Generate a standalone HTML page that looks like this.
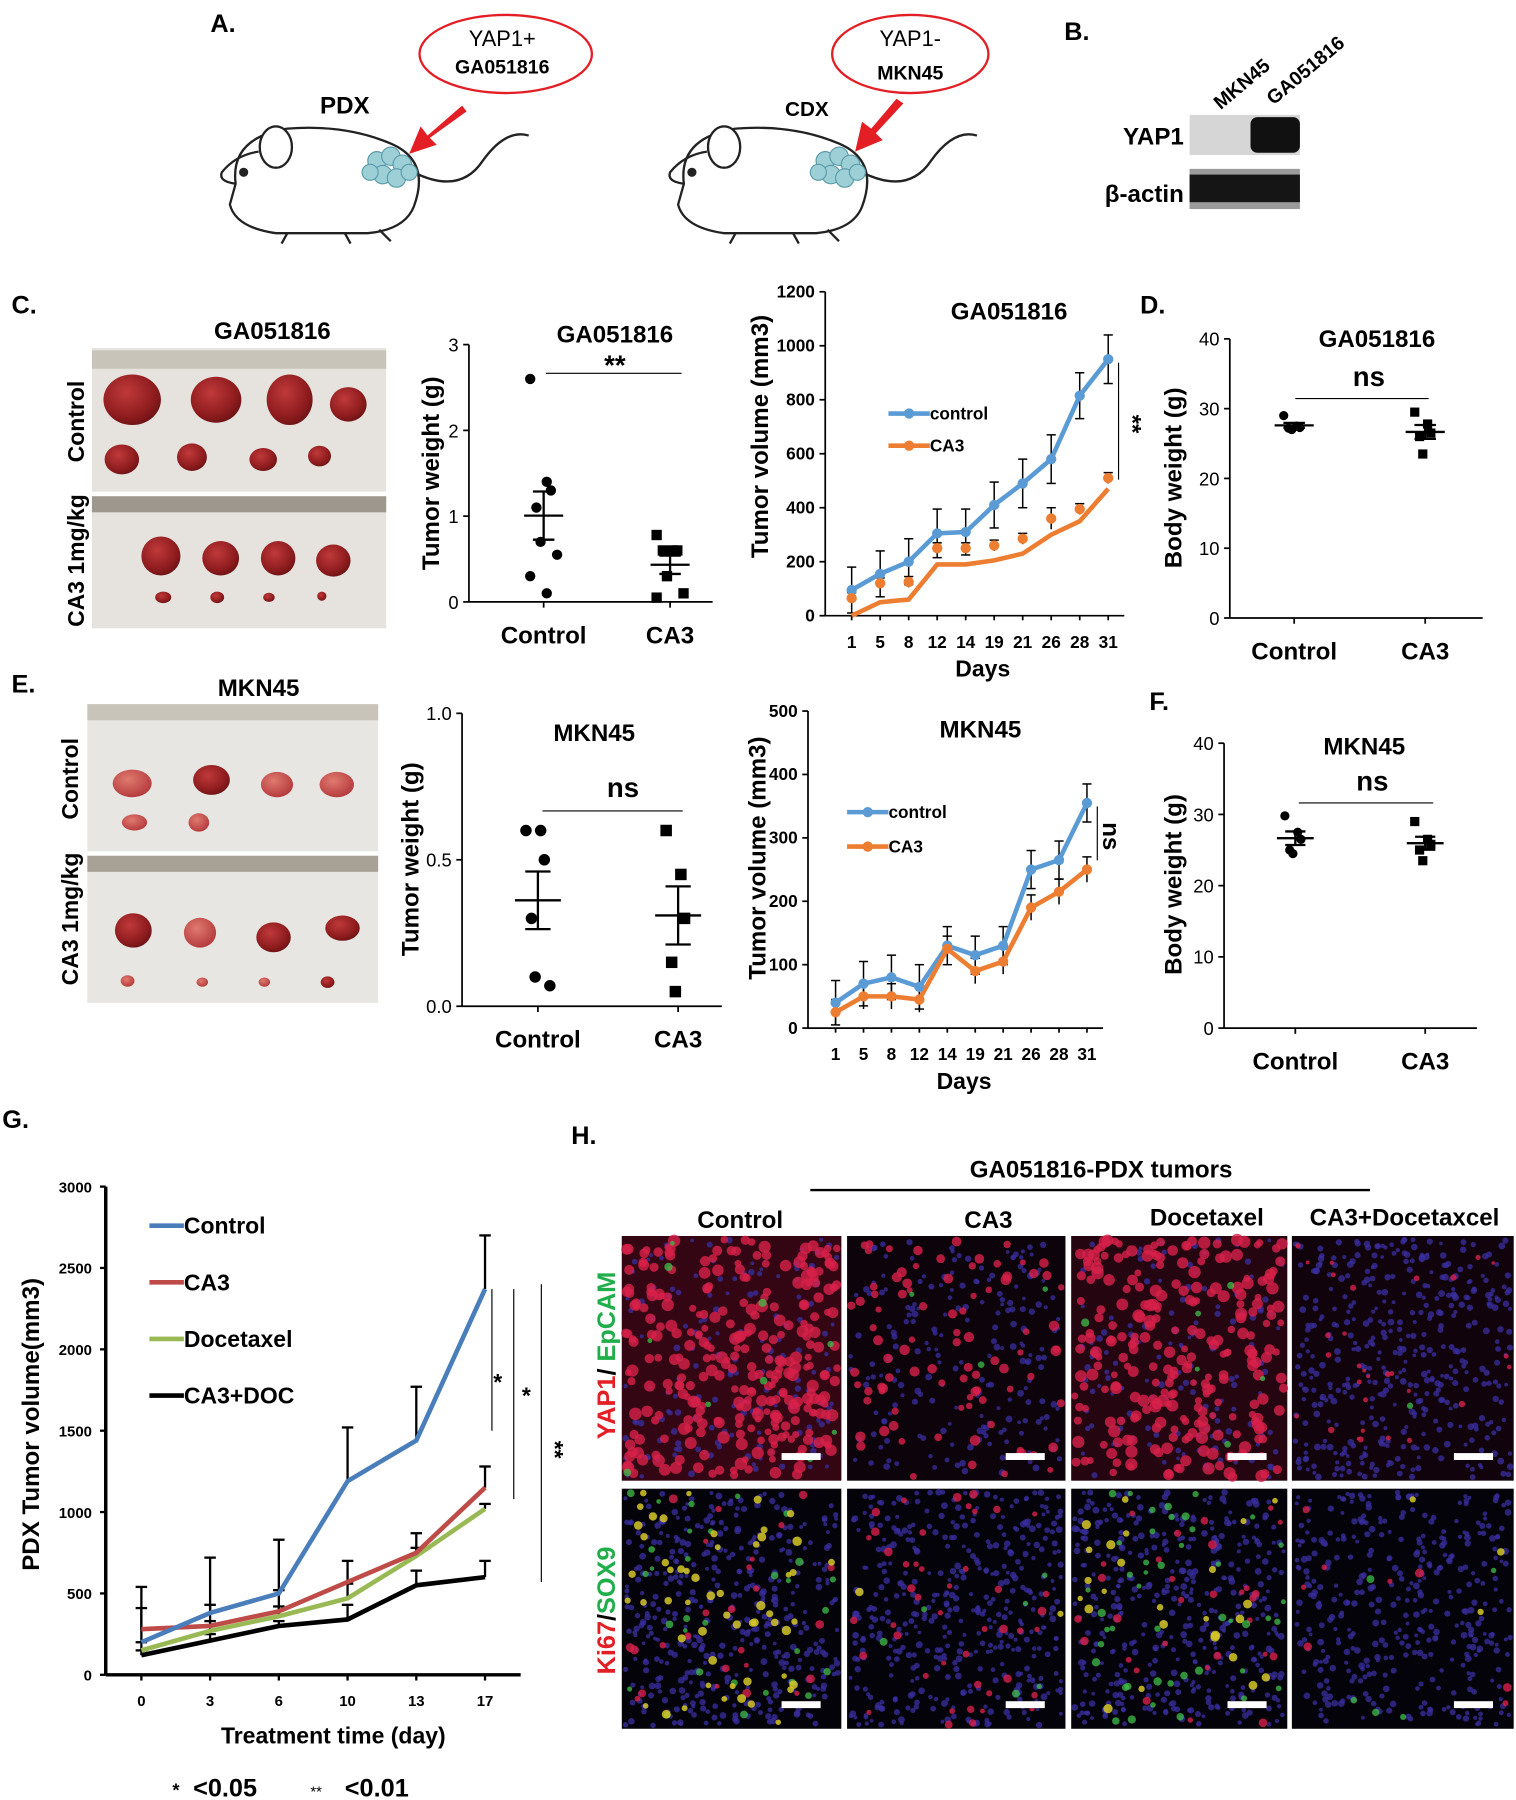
<!DOCTYPE html>
<html><head><meta charset="utf-8">
<style>
html,body{margin:0;padding:0;background:#fff;}
svg{display:block;font-family:"Liberation Sans",Arial,sans-serif;font-weight:bold;}
</style></head>
<body>
<svg id="fig" width="1516" height="1800" viewBox="0 0 1319 1567" preserveAspectRatio="none" xmlns="http://www.w3.org/2000/svg">
<defs>
<radialGradient id="tum" cx="0.4" cy="0.35" r="0.7"><stop offset="0" stop-color="#c0393a"/><stop offset="0.7" stop-color="#8e1c1e"/><stop offset="1" stop-color="#6a1214"/></radialGradient>
<radialGradient id="tum2" cx="0.4" cy="0.35" r="0.7"><stop offset="0" stop-color="#e07a70"/><stop offset="1" stop-color="#b3373a"/></radialGradient>
</defs>

<!-- Panel A -->
<g>
<text x="183" y="28" font-size="22">A.</text>
<g fill="none" stroke="#222" stroke-width="2">
 <path d="M205 160 Q200 120 250 112 Q300 108 340 125 Q375 140 360 180 Q352 200 320 203 L240 203 Q205 198 200 178 Z" fill="#fff"/>
 <path d="M205 160 Q190 158 193 150 Q205 135 225 132" />
 <ellipse cx="240" cy="128" rx="14" ry="18" fill="#fff"/>
 <circle cx="212" cy="150" r="3" fill="#222"/>
 <path d="M360 150 Q400 170 420 140 Q440 112 460 118"/>
 <path d="M250 203 L245 212 M300 203 L305 212 M330 200 L340 210"/>
</g>
<g fill="#9ccfd6" stroke="#5a9aa8" stroke-width="1">
 <circle cx="328" cy="140" r="8"/><circle cx="340" cy="136" r="8"/><circle cx="350" cy="143" r="8"/><circle cx="333" cy="152" r="8"/><circle cx="345" cy="155" r="8"/><circle cx="356" cy="150" r="7"/><circle cx="322" cy="150" r="7"/>
</g>
<text x="300" y="99" font-size="21" text-anchor="middle">PDX</text>
<ellipse cx="440" cy="47" rx="75" ry="34" fill="none" stroke="#e31e24" stroke-width="2"/>
<text x="437" y="40" font-size="19" font-weight="normal" text-anchor="middle">YAP1+</text>
<text x="437" y="64" font-size="17" text-anchor="middle">GA051816</text>
<path d="M402 92 L372 118 L366 110 L356 134 L380 126 L374 120 L406 97 Z" fill="#e31e24"/>

<g fill="none" stroke="#222" stroke-width="2">
 <path d="M595 160 Q590 120 640 112 Q690 108 730 125 Q765 140 750 180 Q742 200 710 203 L630 203 Q595 198 590 178 Z" fill="#fff"/>
 <path d="M595 160 Q580 158 583 150 Q595 135 615 132" />
 <ellipse cx="630" cy="128" rx="14" ry="18" fill="#fff"/>
 <circle cx="602" cy="150" r="3" fill="#222"/>
 <path d="M750 150 Q790 170 810 140 Q830 112 850 118"/>
 <path d="M640 203 L635 212 M690 203 L695 212 M720 200 L730 210"/>
</g>
<g fill="#9ccfd6" stroke="#5a9aa8" stroke-width="1">
 <circle cx="718" cy="140" r="8"/><circle cx="730" cy="136" r="8"/><circle cx="740" cy="143" r="8"/><circle cx="723" cy="152" r="8"/><circle cx="735" cy="155" r="8"/><circle cx="746" cy="150" r="7"/><circle cx="712" cy="150" r="7"/>
</g>
<text x="702" y="101" font-size="18" text-anchor="middle">CDX</text>
<ellipse cx="792" cy="47" rx="68" ry="34" fill="none" stroke="#e31e24" stroke-width="2"/>
<text x="792" y="40" font-size="19" font-weight="normal" text-anchor="middle">YAP1-</text>
<text x="792" y="69" font-size="17" text-anchor="middle">MKN45</text>
<path d="M780 86 L758 112 L750 106 L744 132 L768 122 L762 116 L786 90 Z" fill="#e31e24"/>
</g>

<!-- Panel B -->
<g>
<text x="926" y="35" font-size="22">B.</text>
<text x="1062" y="96" font-size="17" transform="rotate(-40 1062 96)">MKN45</text>
<text x="1108" y="92" font-size="17" transform="rotate(-40 1108 92)">GA051816</text>
<text x="1030" y="126" font-size="21" text-anchor="end">YAP1</text>
<rect x="1035" y="100" width="96" height="35" fill="#d6d6d6"/>
<rect x="1088" y="102" width="43" height="31" rx="6" fill="#111"/>
<text x="1030" y="176" font-size="21" text-anchor="end">β-actin</text>
<rect x="1035" y="147" width="96" height="35" fill="#9a9a9a"/>
<rect x="1035" y="152" width="96" height="24" fill="#151515"/>
</g>

<!-- Panel C / E photos -->
<g>
<text x="10" y="273" font-size="22">C.</text>
<text x="237" y="295" font-size="21" text-anchor="middle">GA051816</text>
<text x="73" y="367" font-size="20" text-anchor="middle" transform="rotate(-90 73 367)">Control</text>
<text x="73" y="488" font-size="20" text-anchor="middle" transform="rotate(-90 73 488)">CA3 1mg/kg</text>
<rect x="80" y="303" width="256" height="244" fill="#e6e3df"/>
<rect x="80" y="305" width="256" height="16" fill="#c9c4ba"/>
<rect x="80" y="428" width="256" height="4" fill="#fff"/>
<rect x="80" y="432" width="256" height="14" fill="#9d978d"/>
<ellipse cx="115" cy="348" rx="25" ry="22" fill="url(#tum)"/><ellipse cx="188" cy="348" rx="22" ry="20" fill="url(#tum)"/><ellipse cx="252" cy="348" rx="20" ry="22" fill="url(#tum)"/><ellipse cx="303" cy="352" rx="16" ry="15" fill="url(#tum)"/>
<ellipse cx="106" cy="400" rx="15" ry="13" fill="url(#tum)"/><ellipse cx="167" cy="398" rx="13" ry="12" fill="url(#tum)"/><ellipse cx="229" cy="400" rx="12" ry="10" fill="url(#tum)"/><ellipse cx="278" cy="397" rx="10" ry="9" fill="url(#tum)"/>
<ellipse cx="140" cy="484" rx="17" ry="17" fill="url(#tum)"/><ellipse cx="192" cy="486" rx="16" ry="15" fill="url(#tum)"/><ellipse cx="242" cy="486" rx="15" ry="15" fill="url(#tum)"/><ellipse cx="290" cy="488" rx="15" ry="14" fill="url(#tum)"/>
<ellipse cx="142" cy="520" rx="7" ry="5" fill="url(#tum)"/><ellipse cx="189" cy="520" rx="6" ry="5" fill="url(#tum)"/><ellipse cx="234" cy="520" rx="5" ry="4" fill="url(#tum)"/><ellipse cx="280" cy="519" rx="4" ry="4" fill="url(#tum)"/>
</g>
<g>
<text x="10" y="603" font-size="22">E.</text>
<text x="225" y="606" font-size="21" text-anchor="middle">MKN45</text>
<text x="68" y="678" font-size="20" text-anchor="middle" transform="rotate(-90 68 678)">Control</text>
<text x="68" y="800" font-size="20" text-anchor="middle" transform="rotate(-90 68 800)">CA3 1mg/kg</text>
<rect x="76" y="613" width="253" height="260" fill="#e8e6e2"/>
<rect x="76" y="613" width="253" height="14" fill="#c9c4ba"/>
<rect x="76" y="741" width="253" height="4" fill="#fff"/>
<rect x="76" y="745" width="253" height="14" fill="#a8a296"/>
<ellipse cx="115" cy="682" rx="17" ry="12" fill="url(#tum2)"/><ellipse cx="184" cy="679" rx="16" ry="13" fill="url(#tum)"/><ellipse cx="241" cy="683" rx="14" ry="11" fill="url(#tum2)"/><ellipse cx="293" cy="683" rx="15" ry="11" fill="url(#tum2)"/>
<ellipse cx="117" cy="716" rx="11" ry="7" fill="url(#tum2)"/><ellipse cx="173" cy="716" rx="9" ry="8" fill="url(#tum2)"/>
<ellipse cx="116" cy="810" rx="16" ry="15" fill="url(#tum)"/><ellipse cx="174" cy="812" rx="14" ry="13" fill="url(#tum2)"/><ellipse cx="238" cy="816" rx="15" ry="13" fill="url(#tum)"/><ellipse cx="298" cy="808" rx="15" ry="11" fill="url(#tum)"/>
<ellipse cx="111" cy="854" rx="6" ry="5" fill="url(#tum2)"/><ellipse cx="176" cy="855" rx="5" ry="4" fill="url(#tum2)"/><ellipse cx="230" cy="855" rx="5" ry="4" fill="url(#tum2)"/><ellipse cx="285" cy="855" rx="6" ry="5" fill="url(#tum)"/>
</g>

<g id="charts"></g>

<!-- Panel H -->
<g>
<text x="497" y="996" font-size="22">H.</text>
<text x="958" y="1025" font-size="21" text-anchor="middle">GA051816-PDX tumors</text>
<line x1="705" y1="1036" x2="1192" y2="1036" stroke="#000" stroke-width="2"/>
<text x="644" y="1069" font-size="21" text-anchor="middle">Control</text>
<text x="860" y="1069" font-size="21" text-anchor="middle">CA3</text>
<text x="1050" y="1067" font-size="21" text-anchor="middle">Docetaxel</text>
<text x="1222" y="1067" font-size="21" text-anchor="middle">CA3+Docetaxcel</text>
<text x="535" y="1180" font-size="22" text-anchor="middle" transform="rotate(-90 535 1180)"><tspan fill="#e31e24">YAP1</tspan><tspan fill="#000">/ </tspan><tspan fill="#1fae4a">EpCAM</tspan></text>
<text x="535" y="1402" font-size="22" text-anchor="middle" transform="rotate(-90 535 1402)"><tspan fill="#e31e24">Ki67</tspan><tspan fill="#000">/</tspan><tspan fill="#1fae4a">SOX9</tspan></text>
<g id="micro"></g>
</g>

<script>
// ===== Data arrays =====
// C: tumor weight GA051816
const cWeightControl = [2.6, 1.4, 1.3, 1.1, 0.7, 0.55, 0.3, 0.1];
const cWeightCA3 = [0.78, 0.6, 0.6, 0.6, 0.3, 0.1, 0.05];
const cWeightTicks = [0, 1, 2, 3];
// C: tumor volume GA051816
const cDays = ["1","5","8","12","14","19","21","26","28","31"];
const cVolControl = [95, 155, 200, 305, 310, 410, 490, 580, 815, 950];
const cVolControlErr = [85, 85, 85, 90, 85, 85, 90, 90, 85, 90];
const cVolCA3Dots = [65, 120, 125, 250, 250, 260, 285, 360, 395, 510];
const cVolCA3Line = [0, 50, 60, 190, 190, 205, 230, 300, 350, 470];
const cVolCA3Err = [20, 20, 20, 20, 20, 20, 20, 40, 20, 20];
const cVolTicks = [0, 200, 400, 600, 800, 1000, 1200];
// D: body weight GA051816
const dBodyControl = [29, 27.5, 27.3, 27.2, 27.0];
const dBodyCA3 = [29.5, 27.8, 26.5, 26.0, 23.5];
const bodyTicks = [0, 10, 20, 30, 40];
// E: tumor weight MKN45
const eWeightControl = [0.6, 0.6, 0.5, 0.3, 0.1, 0.07];
const eWeightCA3 = [0.6, 0.45, 0.3, 0.15, 0.05];
const eWeightTicks = [0.0, 0.5, 1.0];
// E: tumor volume MKN45
const eDays = ["1","5","8","12","14","19","21","26","28","31"];
const eVolControl = [40, 70, 80, 65, 130, 115, 130, 250, 265, 355];
const eVolControlErr = [35, 35, 35, 35, 30, 30, 30, 30, 30, 30];
const eVolCA3 = [25, 50, 50, 45, 125, 90, 105, 190, 215, 250];
const eVolCA3Err = [20, 20, 20, 20, 20, 20, 20, 20, 20, 20];
const eVolTicks = [0, 100, 200, 300, 400, 500];
// F: body weight MKN45
const fBodyControl = [29.8, 27.5, 26.5, 25.0, 24.5];
const fBodyCA3 = [29.0, 26.5, 25.8, 25.0, 23.5];
// G: PDX tumor volume
const gDays = ["0","3","6","10","13","17"];
const gControl = [200, 380, 500, 1190, 1440, 2370];
const gControlUp = [540, 720, 830, 1520, 1770, 2700];
const gCA3 = [280, 300, 390, 570, 750, 1150];
const gCA3Up = [410, 430, 520, 700, 870, 1280];
const gDoc = [150, 270, 360, 470, 730, 1020];
const gDocUp = [200, 330, 420, 560, 780, 1050];
const gCombo = [120, 210, 300, 340, 550, 600];
const gComboUp = [150, 250, 330, 430, 640, 700];
const gTicks = [0, 500, 1000, 1500, 2000, 2500, 3000];

const NS = "http://www.w3.org/2000/svg";
const root = document.getElementById("charts");
function mk(parent, tag, attrs, name, inter) {
  const el = document.createElementNS(NS, tag);
  for (const k in attrs) el.setAttribute(k, attrs[k]);
  
  
  parent.appendChild(el);
  return el;
}
function txt(parent, x, y, s, size, name, extra) {
  const a = Object.assign({x: x, y: y, 'font-size': size, 'text-anchor': 'middle'}, extra || {});
  const t = mk(parent, 'text', a, name, false);
  t.textContent = s;
  return t;
}
function linear(d0, d1, r0, r1) { return v => r0 + (v - d0) * (r1 - r0) / (d1 - d0); }
function mean(a) { return a.reduce((s, v) => s + v, 0) / a.length; }
function sem(a) { const m = mean(a); const sd = Math.sqrt(a.reduce((s, v) => s + (v - m) * (v - m), 0) / (a.length - 1)); return sd / Math.sqrt(a.length); }

// ----- dot plot -----
function dotPlot(o) {
  const g = mk(root, 'g', {}, o.name, false);
  const y = linear(o.min, o.max, o.y0, o.y1);
  mk(g, 'line', {x1: o.x0, y1: o.y0, x2: o.x0, y2: o.y1, stroke: '#000', 'stroke-width': 1.5}, 'y-axis', false);
  mk(g, 'line', {x1: o.x0, y1: o.y0, x2: o.xEnd, y2: o.y0, stroke: '#000', 'stroke-width': 1.5}, 'x-axis', false);
  o.ticks.forEach(t => {
    mk(g, 'line', {x1: o.x0 - 5, y1: y(t), x2: o.x0, y2: y(t), stroke: '#000', 'stroke-width': 1.5}, 'y-tick', false);
    txt(g, o.x0 - 9, y(t) + 6, o.fmt ? o.fmt(t) : String(t), 16, 'y-tick-label', {'text-anchor': 'end', 'font-weight': 'normal'});
  });
  [o.xa, o.xb].forEach(xx => mk(g, 'line', {x1: xx, y1: o.y0, x2: xx, y2: o.y0 + 5, stroke: '#000', 'stroke-width': 1.5}, 'x-tick', false));
  txt(g, o.xa, o.y0 + 36, 'Control', 21, 'x-label-control');
  txt(g, o.xb, o.y0 + 36, 'CA3', 21, 'x-label-ca3');
  txt(g, o.ylx, o.yly, o.ylabel, 21, 'y-axis-title', {transform: `rotate(-90 ${o.ylx} ${o.yly})`});
  txt(g, o.tx, o.ty, o.title, 21, 'chart-title');
  txt(g, o.sx, o.sy, o.sig, 24, 'significance-label');
  mk(g, 'line', {x1: o.l1, y1: o.ly, x2: o.l2, y2: o.ly, stroke: '#000', 'stroke-width': 1}, 'significance-line', false);
  [[o.a, o.xa, 'circle', 'control'], [o.b, o.xb, 'rect', 'ca3']].forEach(([arr, cx, shp, nm]) => {
    arr.forEach((v, i) => {
      const off = o.spread * (((i % 3) - 1) + (i % 2 ? 0.3 : -0.3));
      const px = cx + off, py = y(v);
      if (shp === 'circle') mk(g, 'circle', {cx: px, cy: py, r: o.r, fill: '#000'}, 'point-' + nm, false);
      else mk(g, 'rect', {x: px - o.r, y: py - o.r, width: 2 * o.r, height: 2 * o.r, fill: '#000'}, 'point-' + nm, false);
    });
    const m = mean(arr), s = sem(arr);
    mk(g, 'line', {x1: cx - o.mw, y1: y(m), x2: cx + o.mw, y2: y(m), stroke: '#000', 'stroke-width': 2}, 'mean-' + nm, false);
    mk(g, 'line', {x1: cx, y1: y(m - s), x2: cx, y2: y(m + s), stroke: '#000', 'stroke-width': 2}, 'sem-' + nm, false);
    mk(g, 'line', {x1: cx - o.mw * 0.55, y1: y(m - s), x2: cx + o.mw * 0.55, y2: y(m - s), stroke: '#000', 'stroke-width': 2}, 'sem-cap-' + nm, false);
    mk(g, 'line', {x1: cx - o.mw * 0.55, y1: y(m + s), x2: cx + o.mw * 0.55, y2: y(m + s), stroke: '#000', 'stroke-width': 2}, 'sem-cap-' + nm, false);
  });
}
dotPlot({name: 'chart-c-tumor-weight', x0: 408, xEnd: 620, y0: 524, y1: 300, min: 0, max: 3, ticks: cWeightTicks,
  xa: 473, xb: 583, a: cWeightControl, b: cWeightCA3, r: 4.5, spread: 9, mw: 17, ylabel: 'Tumor  weight (g)', ylx: 382, yly: 412,
  title: 'GA051816', tx: 535, ty: 298, sig: '**', sx: 535, sy: 326, l1: 475, l2: 593, ly: 325});
dotPlot({name: 'chart-e-tumor-weight', x0: 402, xEnd: 628, y0: 876, y1: 621, min: 0, max: 1, ticks: eWeightTicks, fmt: t => t.toFixed(1),
  xa: 468, xb: 590, a: eWeightControl, b: eWeightCA3, r: 5, spread: 8, mw: 20, ylabel: 'Tumor  weight (g)', ylx: 364, yly: 748,
  title: 'MKN45', tx: 517, ty: 645, sig: 'ns', sx: 542, sy: 694, l1: 472, l2: 594, ly: 706});
dotPlot({name: 'chart-d-body-weight', x0: 1070, xEnd: 1290, y0: 538, y1: 295, min: 0, max: 40, ticks: bodyTicks,
  xa: 1126, xb: 1240, a: dBodyControl, b: dBodyCA3, r: 4, spread: 7, mw: 17, ylabel: 'Body weight (g)', ylx: 1028, yly: 416,
  title: 'GA051816', tx: 1198, ty: 302, sig: 'ns', sx: 1191, sy: 336, l1: 1127, l2: 1243, ly: 347});
dotPlot({name: 'chart-f-body-weight', x0: 1065, xEnd: 1285, y0: 895, y1: 647, min: 0, max: 40, ticks: bodyTicks,
  xa: 1127, xb: 1240, a: fBodyControl, b: fBodyCA3, r: 4, spread: 7, mw: 16, ylabel: 'Body weight (g)', ylx: 1028, yly: 770,
  title: 'MKN45', tx: 1187, ty: 657, sig: 'ns', sx: 1194, sy: 688, l1: 1130, l2: 1247, ly: 699});
txt(root, 992, 273, 'D.', 22, 'panel-d-label', {'text-anchor': 'start'});
txt(root, 1000, 618, 'F.', 22, 'panel-f-label', {'text-anchor': 'start'});

// ----- line charts C/E -----
function volChart(o) {
  const g = mk(root, 'g', {}, o.name, false);
  const y = linear(0, o.max, o.y0, o.y1);
  const x = i => o.xs + i * o.dx;
  mk(g, 'line', {x1: o.x0, y1: o.y0, x2: o.x0, y2: o.y1, stroke: '#000', 'stroke-width': 1.5}, 'y-axis', false);
  mk(g, 'line', {x1: o.x0, y1: o.y0, x2: x(o.days.length - 1) + 14, y2: o.y0, stroke: '#000', 'stroke-width': 1.5}, 'x-axis', false);
  o.ticks.forEach(t => {
    mk(g, 'line', {x1: o.x0 - 5, y1: y(t), x2: o.x0, y2: y(t), stroke: '#000', 'stroke-width': 1.5}, 'y-tick', false);
    txt(g, o.x0 - 9, y(t) + 5, String(t), 15, 'y-tick-label', {'text-anchor': 'end'});
  });
  o.days.forEach((d, i) => {
    mk(g, 'line', {x1: x(i), y1: o.y0, x2: x(i), y2: o.y0 + 4, stroke: '#000', 'stroke-width': 1.5}, 'x-tick', false);
    txt(g, x(i), o.y0 + 28, d, 15, 'x-tick-label');
  });
  txt(g, o.xs + o.dx * 4.6, o.y0 + 53, 'Days', 20, 'x-axis-title');
  txt(g, o.ylx, o.yly, 'Tumor volume (mm3)', 21, 'y-axis-title', {transform: `rotate(-90 ${o.ylx} ${o.yly})`});
  txt(g, o.tx, o.ty, o.title, 21, 'chart-title');
  const blue = '#5b9bd5', orange = '#ed7d31';
  o.ctl.forEach((v, i) => {
    mk(g, 'line', {x1: x(i), y1: y(v - o.ctlErr[i]), x2: x(i), y2: y(v + o.ctlErr[i]), stroke: '#000', 'stroke-width': 1.3}, 'error-bar-control', false);
    mk(g, 'line', {x1: x(i) - 4, y1: y(v + o.ctlErr[i]), x2: x(i) + 4, y2: y(v + o.ctlErr[i]), stroke: '#000', 'stroke-width': 1.3}, 'error-cap-control', false);
    mk(g, 'line', {x1: x(i) - 4, y1: y(v - o.ctlErr[i]), x2: x(i) + 4, y2: y(v - o.ctlErr[i]), stroke: '#000', 'stroke-width': 1.3}, 'error-cap-control', false);
  });
  o.caDots.forEach((v, i) => {
    mk(g, 'line', {x1: x(i), y1: y(v - o.caErr[i]), x2: x(i), y2: y(v + o.caErr[i]), stroke: '#000', 'stroke-width': 1.3}, 'error-bar-ca3', false);
    mk(g, 'line', {x1: x(i) - 4, y1: y(v + o.caErr[i]), x2: x(i) + 4, y2: y(v + o.caErr[i]), stroke: '#000', 'stroke-width': 1.3}, 'error-cap-ca3', false);
  });
  mk(g, 'polyline', {points: o.ctl.map((v, i) => x(i) + ',' + y(v)).join(' '), fill: 'none', stroke: blue, 'stroke-width': 4}, 'line-control', false);
  mk(g, 'polyline', {points: o.caLine.map((v, i) => x(i) + ',' + y(v)).join(' '), fill: 'none', stroke: orange, 'stroke-width': 4}, 'line-ca3', false);
  o.ctl.forEach((v, i) => mk(g, 'circle', {cx: x(i), cy: y(v), r: 4.5, fill: blue}, 'point-control', false));
  o.caDots.forEach((v, i) => mk(g, 'circle', {cx: x(i), cy: y(v), r: 4.5, fill: orange}, 'point-ca3', false));
  mk(g, 'line', {x1: o.lx, y1: o.ly, x2: o.lx + 36, y2: o.ly, stroke: blue, 'stroke-width': 4}, 'legend-control-swatch', false);
  mk(g, 'circle', {cx: o.lx + 18, cy: o.ly, r: 4.5, fill: blue}, 'legend-control-marker', false);
  txt(g, o.lx + 36, o.ly + 5, 'control', 15, 'legend-control', {'text-anchor': 'start'});
  mk(g, 'line', {x1: o.lx, y1: o.ly + o.lgap, x2: o.lx + 36, y2: o.ly + o.lgap, stroke: orange, 'stroke-width': 4}, 'legend-ca3-swatch', false);
  mk(g, 'circle', {cx: o.lx + 18, cy: o.ly + o.lgap, r: 4.5, fill: orange}, 'legend-ca3-marker', false);
  txt(g, o.lx + 36, o.ly + o.lgap + 5, 'CA3', 15, 'legend-ca3', {'text-anchor': 'start'});
  const last = o.ctl.length - 1;
  const sx = x(last) + 9;
  const my = (y(o.ctl[last]) + y(o.caLine[last])) / 2;
  mk(g, 'line', {x1: sx, y1: y(o.ctl[last]) + 3, x2: sx, y2: y(o.caLine[last]) - 8, stroke: '#000', 'stroke-width': 1}, 'significance-line', false);
  txt(g, sx + 5, my, o.sig, 21, 'significance-label', {transform: `rotate(90 ${sx + 5} ${my})`});
}
volChart({name: 'chart-c-tumor-volume', x0: 718, y0: 536, y1: 254, max: 1200, ticks: cVolTicks, xs: 741, dx: 24.8, days: cDays,
  ctl: cVolControl, ctlErr: cVolControlErr, caDots: cVolCA3Dots, caLine: cVolCA3Line, caErr: cVolCA3Err,
  ylx: 668, yly: 380, title: 'GA051816', tx: 878, ty: 278, lx: 773, ly: 360, lgap: 28, sig: '**'});
volChart({name: 'chart-e-tumor-volume', x0: 703, y0: 895, y1: 619, max: 500, ticks: eVolTicks, xs: 727, dx: 24.3, days: eDays,
  ctl: eVolControl, ctlErr: eVolControlErr, caDots: eVolCA3, caLine: eVolCA3, caErr: eVolCA3Err,
  ylx: 666, yly: 747, title: 'MKN45', tx: 853, ty: 642, lx: 737, ly: 707, lgap: 30, sig: 'ns'});

// ----- Panel G -----
(function () {
  const g = mk(root, 'g', {}, 'chart-g-pdx-volume', false);
  txt(g, 2, 982, 'G.', 22, 'panel-g-label', {'text-anchor': 'start'});
  const x0 = 92, y0 = 1458, y1 = 1033;
  const y = linear(0, 3000, y0, y1);
  const x = i => 123 + i * 59.8;
  mk(g, 'line', {x1: x0, y1: y0, x2: x0, y2: y1, stroke: '#000', 'stroke-width': 3}, 'y-axis', false);
  mk(g, 'line', {x1: x0, y1: y0, x2: 453, y2: y0, stroke: '#000', 'stroke-width': 3}, 'x-axis', false);
  gTicks.forEach(t => {
    mk(g, 'line', {x1: x0 - 5, y1: y(t), x2: x0, y2: y(t), stroke: '#000', 'stroke-width': 2}, 'y-tick', false);
    txt(g, x0 - 12, y(t) + 5, String(t), 13, 'y-tick-label', {'text-anchor': 'end'});
  });
  gDays.forEach((d, i) => {
    mk(g, 'line', {x1: x(i), y1: y0, x2: x(i), y2: y0 + 5, stroke: '#000', 'stroke-width': 2}, 'x-tick', false);
    txt(g, x(i), y0 + 27, d, 13, 'x-tick-label');
  });
  txt(g, 290, 1518, 'Treatment time (day)', 20, 'x-axis-title');
  txt(g, 34, 1240, 'PDX Tumor volume(mm3)', 21, 'y-axis-title', {transform: 'rotate(-90 34 1240)'});
  const series = [[gControl, gControlUp, '#4a7ebb', 'control'], [gCA3, gCA3Up, '#be4b48', 'ca3'], [gDoc, gDocUp, '#98b954', 'docetaxel'], [gCombo, gComboUp, '#000', 'ca3-doc']];
  series.forEach(([v, up, c, nm]) => {
    v.forEach((val, i) => {
      mk(g, 'line', {x1: x(i), y1: y(val), x2: x(i), y2: y(up[i]), stroke: '#000', 'stroke-width': 2}, 'error-bar-' + nm, false);
      mk(g, 'line', {x1: x(i) - 5, y1: y(up[i]), x2: x(i) + 5, y2: y(up[i]), stroke: '#000', 'stroke-width': 2}, 'error-cap-' + nm, false);
    });
  });
  series.slice().reverse().forEach(([v, up, c, nm]) => {
    mk(g, 'polyline', {points: v.map((val, i) => x(i) + ',' + y(val)).join(' '), fill: 'none', stroke: c, 'stroke-width': 4}, 'line-' + nm, false);
  });
  const labels = ['Control', 'CA3', 'Docetaxel', 'CA3+DOC'];
  series.forEach(([v, up, c, nm], k) => {
    const ly = 1067 + k * 49.3;
    mk(g, 'line', {x1: 130, y1: ly, x2: 160, y2: ly, stroke: c, 'stroke-width': 4}, 'legend-swatch-' + nm, false);
    txt(g, 160, ly + 7, labels[k], 20, 'legend-' + nm, {'text-anchor': 'start'});
  });
  const L = gControl.length - 1;
  mk(g, 'line', {x1: 428, y1: y(gControl[L]), x2: 428, y2: y(1500), stroke: '#000', 'stroke-width': 1}, 'sig-line-ca3', false);
  txt(g, 433, 1210, '*', 20, 'sig-label-ca3');
  mk(g, 'line', {x1: 447, y1: y(gControl[L]), x2: 447, y2: y(gCA3[L]) + 10, stroke: '#000', 'stroke-width': 1}, 'sig-line-docetaxel', false);
  txt(g, 458, 1222, '*', 20, 'sig-label-docetaxel');
  mk(g, 'line', {x1: 471, y1: y(2400), x2: 471, y2: y(570), stroke: '#000', 'stroke-width': 1}, 'sig-line-combo', false);
  txt(g, 476, 1262, '**', 20, 'sig-label-combo', {transform: 'rotate(90 476 1262)'});
  txt(g, 150, 1564, '*', 16, 'footnote-star', {'text-anchor': 'start'});
  txt(g, 168, 1564, '<0.05', 22, 'footnote-p005', {'text-anchor': 'start'});
  txt(g, 270, 1564, '**', 13, 'footnote-stars', {'text-anchor': 'start', 'font-weight': 'normal'});
  txt(g, 300, 1564, '<0.01', 22, 'footnote-p001', {'text-anchor': 'start'});
})();

// ----- microscopy panels (decorative texture) -----
(function () {
  const m = document.getElementById('micro');
  let seed = 7;
  const rnd = () => { seed = (seed * 16807) % 2147483647; return seed / 2147483647; };
  const cols = [[541, 732], [737, 927], [932, 1120], [1124, 1317]];
  const rows = [[1076, 1289], [1296, 1505]];
  const names = ['control', 'ca3', 'docetaxel', 'ca3-docetaxel'];
  // [redCells, blueCells, greenCells, yellowCells, redBgOpacity, redRadius]
  const dens = [
    [[300, 160, 10, 0, 0.28, 4.2], [90, 200, 3, 0, 0.05, 3.6], [260, 140, 6, 0, 0.18, 4.2], [30, 420, 1, 0, 0.07, 2.2]],
    [[25, 420, 30, 55, 0.0, 3], [45, 420, 6, 2, 0.0, 3], [30, 420, 45, 25, 0.0, 3], [8, 380, 5, 3, 0.0, 3]]
  ];
  rows.forEach((r, ri) => cols.forEach((c, ci) => {
    const g = mk(m, 'g', {}, 'micrograph-' + (ri ? 'ki67-sox9-' : 'yap1-epcam-') + names[ci], false);
    const w = c[1] - c[0], h = r[1] - r[0];
    mk(g, 'rect', {x: c[0], y: r[0], width: w, height: h, fill: '#05030a'}, 'micrograph-background', false);
    const d = dens[ri][ci];
    if (d[4] > 0) mk(g, 'rect', {x: c[0], y: r[0], width: w, height: h, fill: '#b0102a', opacity: d[4]}, 'micrograph-tint', false);
    const add = (n, fill, rr, op) => {
      for (let i = 0; i < n; i++) {
        mk(g, 'circle', {cx: c[0] + 3 + rnd() * (w - 6), cy: r[0] + 3 + rnd() * (h - 6), r: rr * (0.7 + rnd() * 0.6), fill: fill, opacity: op}, 'cell', false);
      }
    };
    add(d[1], '#3a2fa0', 2.3, 0.75);
    add(d[0], '#d8204a', d[5], 0.8);
    add(d[2], '#3fbf4a', 2.8, 0.75);
    add(d[3], '#d6c82a', 3.2, 0.85);
    mk(g, 'rect', {x: c[1] - 52, y: r[1] - 24, width: 34, height: 6, fill: '#fff'}, 'scale-bar', false);
  }));
})();
</script>
</svg>
</body></html>
